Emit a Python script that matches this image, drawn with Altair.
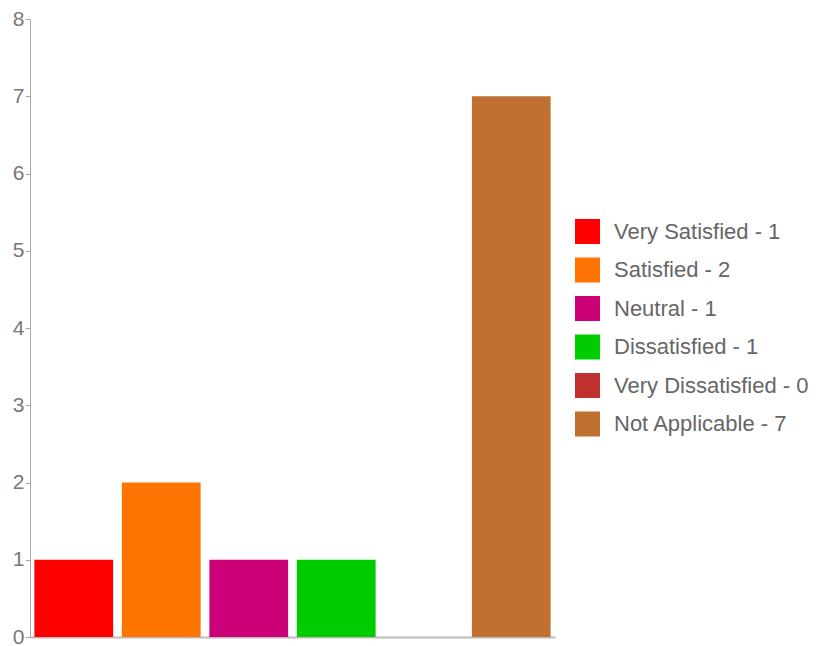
import altair as alt
import pandas as pd

categories = ["Very Satisfied", "Satisfied", "Neutral", "Dissatisfied", "Very Dissatisfied", "Not Applicable"]
values = [1, 2, 1, 1, 0, 7]
colors = ["#ff0000", "#ff7300", "#cc0077", "#00cc00", "#c0302f", "#c07030"]

labels = [f"{c} - {v}" for c, v in zip(categories, values)]
df = pd.DataFrame({"cat": categories, "value": values, "label": labels})

chart = alt.Chart(df).mark_bar().encode(
    x=alt.X("label:N", sort=labels,
            scale=alt.Scale(paddingInner=0.1, paddingOuter=0.05),
            axis=alt.Axis(labels=False, ticks=False, title=None, domainColor="#bbbbbb", domainWidth=2)),
    y=alt.Y("value:Q", scale=alt.Scale(domain=[0, 8], nice=False),
            axis=alt.Axis(values=list(range(9)), title=None, grid=False, tickSize=5, tickColor="#aaaaaa",
                          domainColor="#aaaaaa", labelFontSize=21, labelColor="#777777",
                          labelFont="Liberation Sans", labelPadding=1)),
    color=alt.Color("label:N", sort=labels,
                    scale=alt.Scale(domain=labels, range=colors),
                    legend=alt.Legend(title=None, orient="none", legendX=545, legendY=200,
                                      symbolType="square", symbolSize=625, symbolStrokeWidth=0,
                                      labelFontSize=22, labelColor="#666666", labelFont="Liberation Sans",
                                      labelOffset=14, rowPadding=13.5, padding=0, labelLimit=400)),
).properties(
    width=525, height=618,
    padding={"left": 4, "top": 0, "right": 5, "bottom": 5},
).configure_view(stroke=None)

chart.save("out.html", embed_options={"renderer": "svg", "actions": False})
